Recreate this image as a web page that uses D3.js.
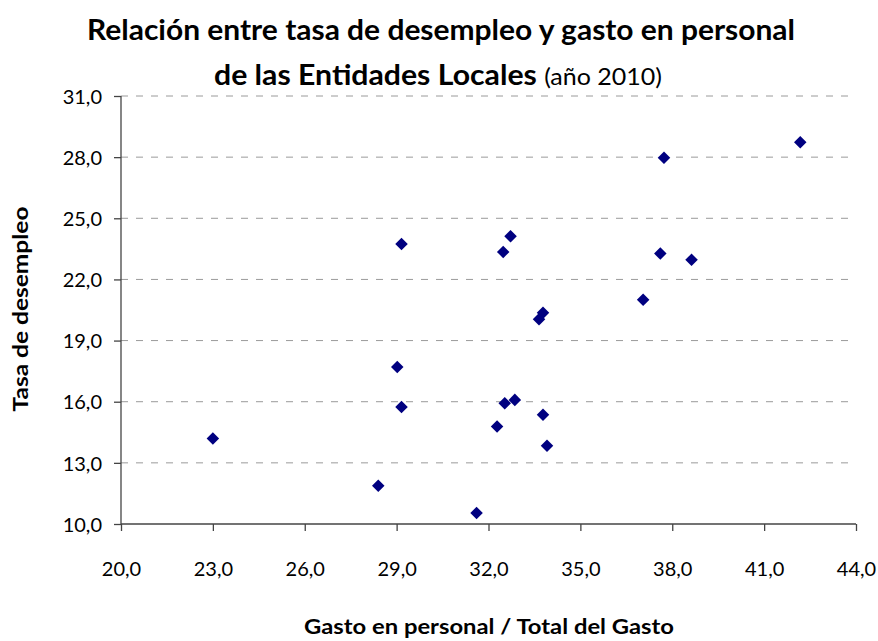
<!DOCTYPE html>
<html>
<head>
<meta charset="utf-8">
<script src="https://cdn.jsdelivr.net/npm/d3@7"></script>
<style>
  html, body { margin: 0; padding: 0; background: #fff; }
  svg { display: block; font-family: Lato, "Open Sans", sans-serif; }
</style>
</head>
<body>
<svg id="chart" width="878" height="641"></svg>
<script>
// Gasto en personal / Total del Gasto (%)
const gastoPersonal = [23.0, 29.16, 28.40, 31.61, 32.28, 32.53, 32.86, 33.78, 33.91,
  29.16, 32.72, 32.48, 37.73, 42.18, 37.61, 38.63, 37.05, 33.78, 33.65, 29.02];
// Tasa de desempleo (%)
const tasaDesempleo = [14.2, 15.74, 11.88, 10.54, 14.78, 15.93, 16.09, 15.36, 13.84,
  23.74, 24.12, 23.35, 27.97, 28.73, 23.27, 22.96, 21.0, 20.37, 20.05, 17.70];

const xTicks = [20, 23, 26, 29, 32, 35, 38, 41, 44];
const yTicks = [10, 13, 16, 19, 22, 25, 28, 31];

const svg = d3.select("#chart");
const plotLeft = 121, plotRight = 856, plotTop = 96, plotBottom = 524;

const x = d3.scaleLinear().domain([20, 44]).range([plotLeft, plotRight]);
const y = d3.scaleLinear().domain([10, 31]).range([plotBottom, plotTop]);
const fmt = v => d3.format(".1f")(v).replace(".", ",");

// horizontal gridlines
svg.append("g").selectAll("line")
  .data(yTicks.filter(t => t > 10))
  .join("line")
  .attr("x1", plotLeft).attr("x2", plotRight - 4)
  .attr("y1", d => y(d)).attr("y2", d => y(d))
  .attr("stroke", "#9a9a9a").attr("stroke-width", 1)
  .attr("stroke-dasharray", "7,8");

// axes
const xAxis = d3.axisBottom(x).tickValues(xTicks).tickFormat(fmt).tickSize(7).tickPadding(31);
const yAxis = d3.axisLeft(y).tickValues(yTicks).tickFormat(fmt).tickSize(7).tickPadding(12);

const gx = svg.append("g").attr("transform", `translate(0,${plotBottom})`).call(xAxis);
const gy = svg.append("g").attr("transform", `translate(${plotLeft},0)`).call(yAxis);
[gx, gy].forEach(g => {
  g.select(".domain").attr("stroke", "#444").attr("stroke-width", 1.3);
  g.selectAll(".tick line").attr("stroke", "#444").attr("stroke-width", 1.3);
  g.selectAll(".tick text").attr("fill", "#000").style("font-size", "20px")
    .style("font-family", "Lato, sans-serif");
});
gx.select(".domain").attr("d", `M${plotLeft},0H${plotRight}`);
gy.select(".domain").attr("d", `M0,${plotBottom}V${plotTop}`);
gy.selectAll(".tick text").attr("dy", "0.36em");

// points
const diamond = d3.symbol().type(d3.symbolDiamond2).size(100);
svg.append("g").selectAll("path")
  .data(gastoPersonal.map((g, i) => [g, tasaDesempleo[i]]))
  .join("path")
  .attr("d", diamond)
  .attr("transform", d => `translate(${x(d[0])},${y(d[1])})`)
  .attr("fill", "#000080");

// title
const title = svg.append("g").attr("text-anchor", "middle").attr("fill", "#000");
title.append("text").attr("x", 441).attr("y", 40)
  .style("font-size", "29px").style("font-weight", "bold")
  .attr("textLength", 708).attr("lengthAdjust", "spacingAndGlyphs")
  .text("Relación entre tasa de desempleo y gasto en personal");
const t2 = title.append("text").attr("x", 438).attr("y", 85)
  .style("font-size", "29px").style("font-weight", "bold")
  .attr("textLength", 448).attr("lengthAdjust", "spacingAndGlyphs");
t2.append("tspan").text("de las Entidades Locales ");
t2.append("tspan").style("font-weight", "normal").style("font-size", "24px").text("(año 2010)");

// axis titles
svg.append("text").attr("x", 489).attr("y", 634).attr("text-anchor", "middle")
  .style("font-size", "20px").style("font-weight", "bold")
  .attr("textLength", 370).attr("lengthAdjust", "spacingAndGlyphs")
  .text("Gasto en personal / Total del Gasto");
svg.append("text").attr("transform", "translate(28,309) rotate(-90)").attr("text-anchor", "middle")
  .style("font-size", "20px").style("font-weight", "bold")
  .attr("textLength", 205).attr("lengthAdjust", "spacingAndGlyphs")
  .text("Tasa de desempleo");
</script>
</body>
</html>
